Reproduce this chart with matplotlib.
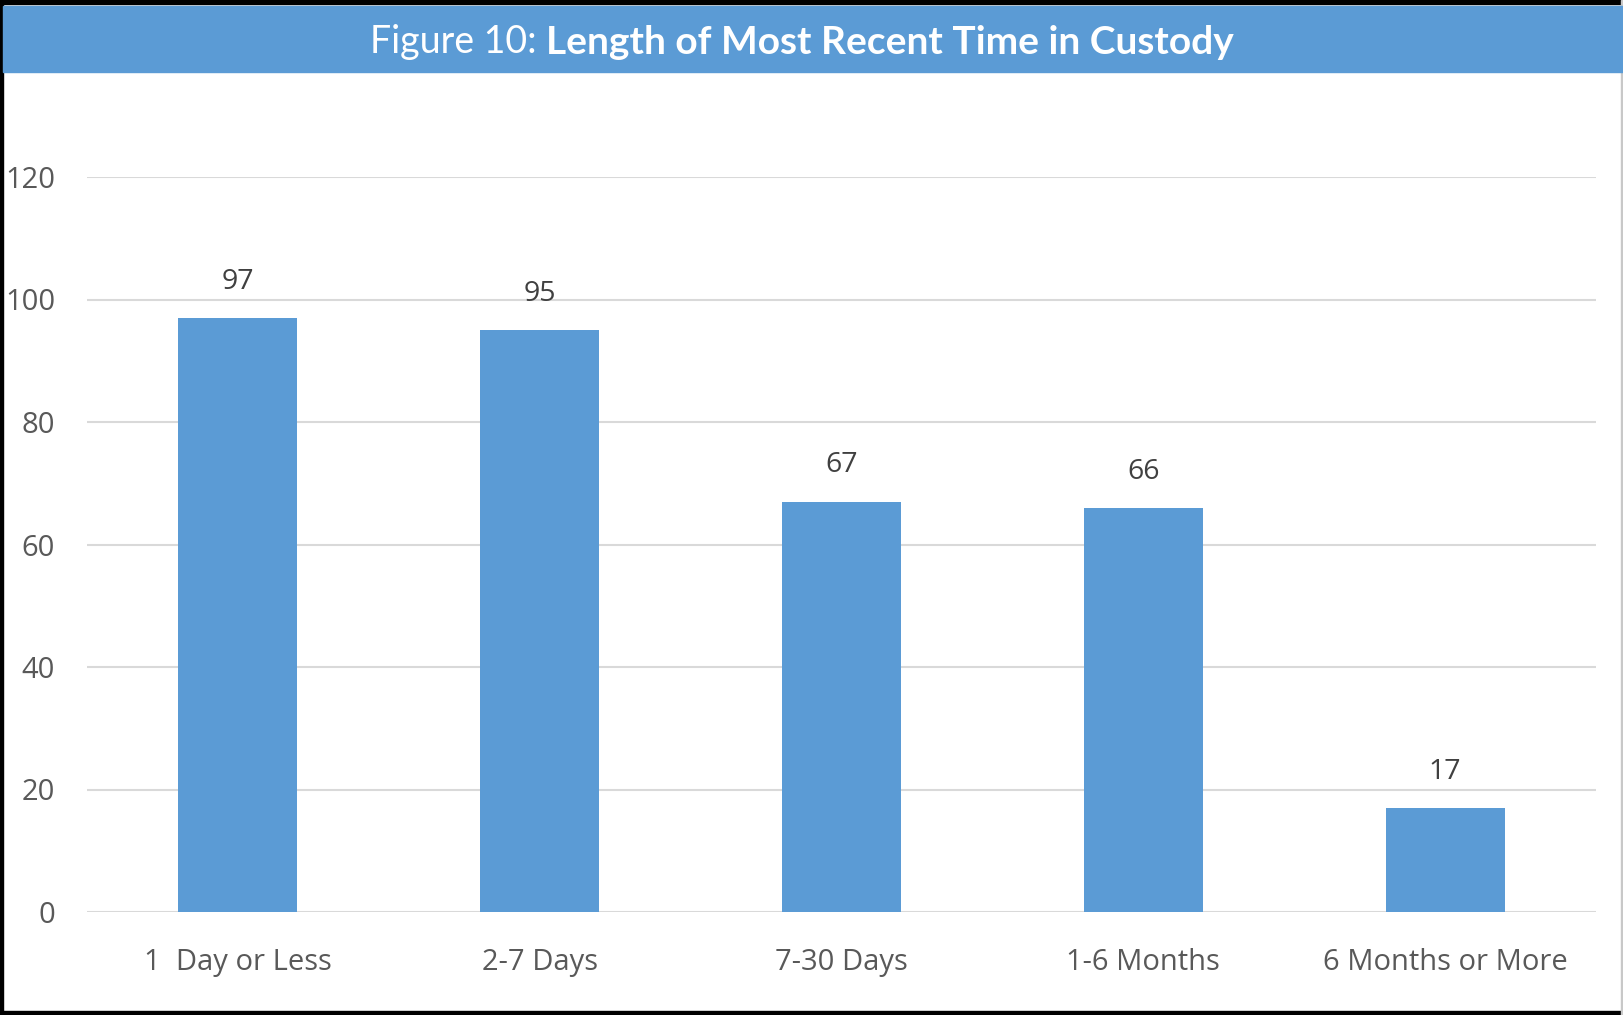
import matplotlib
matplotlib.use('Agg')
import matplotlib.pyplot as plt
from matplotlib.patches import Rectangle

# data
categories = ['1  Day or Less', '2-7 Days', '7-30 Days', '1-6 Months', '6 Months or More']
counts = [97, 95, 67, 66, 17]
yticks = [0, 20, 40, 60, 80, 100, 120]

blue = '#5B9BD5'
W, H = 1623, 1015

fig = plt.figure(figsize=(W / 100, H / 100), dpi=100)
fig.patch.set_facecolor('white')

#frame and title bar
fig.patches.append(Rectangle((0, 1 - 4 / H), 1, 4 / H, transform=fig.transFigure, color='black', zorder=0))
fig.patches.append(Rectangle((0, 0), 3 / W, 1, transform=fig.transFigure, color='black', zorder=0))
fig.patches.append(Rectangle((0, 0), 1, 4 / H, transform=fig.transFigure, color='black', zorder=0))
fig.patches.append(Rectangle((1 - 2 / W, 0), 2 / W, 1, transform=fig.transFigure, color='#c8c8c8', zorder=0))
fig.patches.append(Rectangle((3 / W, 1 - 72 / H), 1, 66 / H, transform=fig.transFigure, color=blue, zorder=1))

t1 = fig.text(370 / W, 1 - 42 / H, 'Figure 10: ', color='white', fontsize=27,
              family='Lato', fontweight='normal', va='center', ha='left')
fig.canvas.draw()
r = fig.canvas.get_renderer()
bb = t1.get_window_extent(renderer=r)
t2 = fig.text(bb.x1 / W, 1 - 42 / H, 'Length of Most Recent Time in Custody', color='white',
              fontsize=28, family='Lato', fontweight='bold', va='center', ha='left')

ax = fig.add_axes([87 / W, 1 - 912 / H, (1596 - 87) / W, (912 - 177) / H])
x = range(len(categories))
ax.bar(x, counts, width=0.394, color=blue, zorder=2)
for xi, v in zip(x, counts):
    ax.annotate(str(v), (xi, v), xytext=(0, 16), textcoords='offset points',
                ha='center', va='bottom', fontsize=20.5, color='#404040', family='Open Sans')

ax.set_xlim(-0.5, len(categories) - 0.5)
ax.set_ylim(0, 120)
ax.set_yticks(yticks)
ax.set_xticks(list(x))
ax.set_xticklabels(categories)
ax.grid(axis='y', color='#d9d9d9', linewidth=1.5, zorder=0)
ax.set_axisbelow(True)
for s in ax.spines.values():
    s.set_visible(False)
ax.tick_params(axis='both', length=0, labelsize=21, labelcolor='#595959')
ax.tick_params(axis='y', pad=23)
ax.tick_params(axis='x', pad=26)
for lab in ax.get_xticklabels() + ax.get_yticklabels():
    lab.set_family('Open Sans')

fig.savefig('out.png', dpi=100)
